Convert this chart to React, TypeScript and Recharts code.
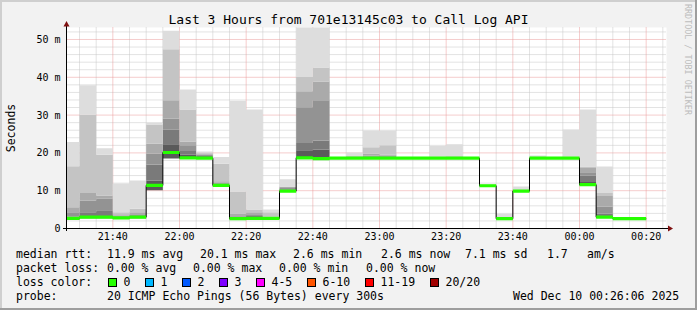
import { Area, CartesianGrid, ComposedChart, XAxis, YAxis } from "recharts";

const FONT = "'DejaVu Sans Mono', monospace";

// 5-minute steps, minutes after 21:00
const slotStart = [
  25, 30, 35, 40, 45, 50, 55, 60, 65, 70, 75, 80, 85, 90, 95, 100, 105, 110,
  115, 120, 125, 130, 135, 140, 145, 150, 155, 160, 165, 170, 175, 180, 185,
  190, 195,
];
const lastStepEnd = 200;

// median rtt in ms
const medianMs = [
  2.7, 3.0, 3.0, 2.8, 3.0, 11.4, 20.1, 18.7, 18.6, 11.4, 2.6, 2.7, 2.7, 9.9,
  18.7, 18.5, 18.6, 18.6, 18.6, 18.6, 18.6, 18.6, 18.6, 18.6, 18.6, 11.3, 2.6,
  9.9, 18.6, 18.6, 18.6, 11.6, 3.0, 2.6, 2.6,
];

// smoke: lowest ping, five inner levels, highest ping (ms)
const smokeLo = [
  2.4, 2.7, 2.7, 2.5, 2.7, 10.1, 18.5, 18.4, 18.4, 11.0, 2.4, 2.5, 2.5, 9.7,
  18.4, 18.3, 18.4, 18.4, 18.4, 18.4, 18.4, 18.4, 18.4, 18.4, 18.4, 11.1, 2.4,
  9.7, 18.4, 18.4, 18.4, 11.3, 2.8, 2.4, 2.4,
];
const smokeA = [
  2.9, 3.3, 3.3, 2.9, 3.2, 12.7, 22.3, 19.5, 18.9, 11.6, 2.9, 3.0, 2.8, 10.1,
  20.7, 20.9, 18.7, 18.7, 18.8, 18.8, 18.7, 18.7, 18.7, 18.7, 18.7, 11.4, 2.7,
  10.0, 18.7, 18.7, 18.7, 12.3, 3.2, 2.7, 2.7,
];
const smokeB = [
  3.2, 4.3, 4.8, 3.1, 3.5, 16.9, 26.1, 20.5, 19.2, 11.9, 3.2, 3.3, 2.9, 10.4,
  22.6, 23.3, 18.7, 18.8, 19.0, 19.0, 18.7, 18.7, 18.8, 18.8, 18.7, 11.5, 2.8,
  10.1, 18.8, 18.7, 18.8, 14.0, 4.0, 2.7, 2.7,
];
const smokeC = [
  4.3, 7.4, 7.9, 3.4, 3.8, 19.8, 29.0, 22.0, 19.5, 12.2, 3.5, 3.6, 3.0, 10.7,
  32.1, 33.9, 18.7, 18.9, 19.3, 19.3, 18.7, 18.7, 18.8, 18.8, 18.7, 11.5, 2.8,
  10.1, 18.8, 18.7, 18.8, 14.9, 5.8, 2.7, 2.7,
];
const smokeD = [
  5.6, 9.4, 8.7, 3.8, 4.3, 22.4, 33.9, 23.0, 19.8, 12.5, 4.0, 4.3, 3.1, 11.0,
  36.3, 38.9, 18.7, 19.0, 19.8, 19.6, 18.7, 18.7, 18.9, 18.9, 18.7, 11.6, 2.9,
  10.2, 18.9, 18.7, 18.9, 16.0, 8.6, 2.7, 2.7,
];
const smokeE = [
  16.5, 30.1, 19.5, 4.3, 5.2, 27.5, 47.4, 31.5, 20.1, 17.1, 9.8, 5.0, 4.3, 11.1,
  40.1, 42.6, 18.7, 19.2, 21.5, 22.0, 18.7, 18.7, 19.0, 19.1, 18.7, 11.6, 2.9,
  10.2, 18.9, 18.7, 19.0, 16.4, 9.4, 2.7, 2.7,
];
const smokeHi = [
  22.9, 37.9, 21.2, 11.9, 12.7, 28.0, 52.3, 36.8, 20.4, 18.9, 33.8, 31.5, 5.0,
  13.0, 60, 60, 18.8, 20.1, 25.9, 25.9, 18.8, 18.8, 21.8, 22.3, 18.8, 11.8, 3.9,
  11.1, 19.3, 18.8, 26.2, 31.5, 16.4, 2.8, 2.8,
];

const smokeShades = ["#5a5a5a", "#7a7a7a", "#939393", "#aaaaaa", "#c4c4c4", "#dddddd"];

const yTicks = [0, 10, 20, 30, 40, 50];
const yMinor = [2, 4, 6, 8, 12, 14, 16, 18, 22, 24, 26, 28, 32, 34, 36, 38, 42, 44, 46, 48, 52];
const xTicks = [40, 60, 80, 100, 120, 140, 160, 180, 200];
const xMinor = [
  30, 35, 45, 50, 55, 65, 70, 75, 85, 90, 95, 105, 110, 115, 125, 130, 135,
  145, 150, 155, 165, 170, 175, 185, 190, 195, 205,
];

const lossLabels = ["0", "1", "2", "3", "4-5", "6-10", "11-19", "20/20"];
const lossColors = ["#26ff00", "#00b8ff", "#0059ff", "#7e00ff", "#ff00ff", "#ff5500", "#ff0000", "#a10000"];

const statsRtt = ["11.9 ms avg", "20.1 ms max", "2.6 ms min", "2.6 ms now", "7.1 ms sd", "1.7", "am/s"];
const statsLoss = ["0.00 % avg", "0.00 % max", "0.00 % min", "0.00 % now"];

// layout
const W = 697;
const H = 310;
const PLOT_LEFT = 66.5;
const PLOT_RIGHT = 666.5;
const PLOT_TOP = 27.5;
const PLOT_BOTTOM = 228.5;
const Y_AXIS_W = 60;
const X_AXIS_H = 20;

const rttX = [107, 200, 293, 381, 465, 547, 587];
const lossX = [107, 193, 279, 366];

const rows = slotStart.map((t, i) => ({
  t,
  median: medianMs[i],
  base: smokeLo[i],
  s0: smokeA[i] - smokeLo[i],
  s1: smokeB[i] - smokeA[i],
  s2: smokeC[i] - smokeB[i],
  s3: smokeD[i] - smokeC[i],
  s4: smokeE[i] - smokeD[i],
  s5: smokeHi[i] - smokeE[i],
  medBase: medianMs[i] - 0.42,
  medBand: 0.84,
}));
// close the last step
rows.push({ ...rows[rows.length - 1], t: lastStepEnd });

function fmtTime(m: number): string {
  const h = (21 + Math.floor(m / 60)) % 24;
  const mm = m % 60;
  return `${String(h).padStart(2, "0")}:${String(mm).padStart(2, "0")}`;
}

function Overlay() {
  const txt = { fontFamily: FONT, fontSize: 11.5, fill: "#000" };
  let sx = 108.5;
  const squares = lossLabels.map((label, i) => {
    const x = sx;
    sx += 30 + label.length * 7;
    return (
      <g key={label}>
        <rect x={x} y={278.5} width={8} height={8} fill={lossColors[i]} stroke="#000" strokeWidth={1} />
        <text x={x + 15} y={286} {...txt}>
          {label}
        </text>
      </g>
    );
  });

  return (
    <svg
      width={W}
      height={H}
      style={{ position: "absolute", left: 0, top: 0, pointerEvents: "none" }}
    >
      {/* frame */}
      <rect x={0} y={0} width={W} height={2} fill="#cfcfcf" />
      <rect x={0} y={0} width={2} height={H} fill="#cfcfcf" />
      <rect x={0} y={H - 2} width={W} height={2} fill="#9e9e9e" />
      <rect x={W - 2} y={0} width={2} height={H} fill="#9e9e9e" />

      <text x={348.5} y={24} textAnchor="middle" fontFamily={FONT} fontSize={13} fill="#000">
        Last 3 Hours from 701e13145c03 to Call Log API
      </text>
      <text
        x={11}
        y={128}
        textAnchor="middle"
        fontFamily={FONT}
        fontSize={11.5}
        fill="#000"
        transform="rotate(-90 11 128)"
        dominantBaseline="central"
      >
        Seconds
      </text>
      <text
        x={684.5}
        y={4}
        fontFamily={FONT}
        fontSize={8.4}
        fill="#bdbdbd"
        transform="rotate(90 684.5 4)"
      >
        RRDTOOL / TOBI OETIKER
      </text>

      {/* axes with arrows */}
      <line x1={PLOT_LEFT} y1={231} x2={PLOT_LEFT} y2={25} stroke="#000" strokeWidth={1} />
      <polygon points={`${PLOT_LEFT - 3},26.5 ${PLOT_LEFT + 3},26.5 ${PLOT_LEFT},21`} fill="#7f1010" />
      <line x1={63} y1={PLOT_BOTTOM} x2={669} y2={PLOT_BOTTOM} stroke="#000" strokeWidth={1} />
      <polygon points={`668,${PLOT_BOTTOM - 3} 668,${PLOT_BOTTOM + 3} 673,${PLOT_BOTTOM}`} fill="#7f1010" />

      {/* legend */}
      <text x={16} y={258} {...txt}>median rtt:</text>
      {statsRtt.map((s, i) => (
        <text key={s + i} x={rttX[i]} y={258} {...txt}>
          {s}
        </text>
      ))}
      <text x={16} y={272} {...txt}>packet loss:</text>
      {statsLoss.map((s, i) => (
        <text key={s + i} x={lossX[i]} y={272} {...txt}>
          {s}
        </text>
      ))}
      <text x={16} y={286} {...txt}>loss color:</text>
      {squares}
      <text x={16} y={300} {...txt}>probe:</text>
      <text x={107} y={300} {...txt}>20 ICMP Echo Pings (56 Bytes) every 300s</text>
      <text x={513} y={300} {...txt}>Wed Dec 10 00:26:06 2025</text>
    </svg>
  );
}

export default function App() {
  const tick = { fill: "#000", fontSize: 10, fontFamily: FONT };
  return (
    <div
      style={{
        position: "absolute",
        left: 0,
        top: 0,
        width: W,
        height: H,
        background: "#f2f2f2",
        overflow: "hidden",
      }}
    >
      <ComposedChart
        width={W}
        height={H}
        data={rows}
        margin={{
          top: PLOT_TOP,
          right: W - PLOT_RIGHT,
          bottom: H - PLOT_BOTTOM - X_AXIS_H,
          left: PLOT_LEFT - Y_AXIS_W,
        }}
      >
        <CartesianGrid fill="#ffffff" horizontal={false} vertical={false} />
        <Area
          dataKey="base"
          stackId="smoke"
          type="stepAfter"
          fill="none"
          stroke="none"
          isAnimationActive={false}
        />
        {smokeShades.map((c, i) => (
          <Area
            key={c}
            dataKey={`s${i}`}
            stackId="smoke"
            type="stepAfter"
            fill={c}
            fillOpacity={1}
            stroke="none"
            isAnimationActive={false}
          />
        ))}
        {/* black median step, drawn as an unfilled area so the green sits above it */}
        <Area
          dataKey="median"
          type="stepAfter"
          stroke="#000"
          strokeWidth={1}
          fill="none"
          dot={false}
          activeDot={false}
          isAnimationActive={false}
        />
        <Area
          dataKey="medBase"
          stackId="med"
          type="stepAfter"
          fill="none"
          stroke="none"
          isAnimationActive={false}
        />
        <Area
          dataKey="medBand"
          stackId="med"
          type="stepAfter"
          fill="#26ff00"
          fillOpacity={1}
          stroke="none"
          isAnimationActive={false}
        />
        <CartesianGrid
          horizontalValues={yMinor}
          verticalValues={xMinor}
          stroke="#c6c6c6"
          strokeDasharray="1 1"
          fill="none"
        />
        <CartesianGrid
          horizontalValues={yTicks.slice(1)}
          verticalValues={xTicks}
          stroke="#eb9a9a"
          strokeDasharray="1 1"
          fill="none"
        />
        <XAxis
          type="number"
          dataKey="t"
          domain={[26.1, 206.1]}
          ticks={xTicks}
          tickFormatter={fmtTime}
          allowDataOverflow
          axisLine={false}
          tickLine={false}
          tickSize={0}
          tickMargin={4}
          height={X_AXIS_H}
          tick={tick}
          interval={0}
        />
        <YAxis
          type="number"
          domain={[0, 53.17]}
          ticks={yTicks}
          tickFormatter={(v: number) => (v === 0 ? "0" : `${v} m`)}
          allowDataOverflow
          axisLine={false}
          tickLine={false}
          tickSize={0}
          tickMargin={6}
          width={Y_AXIS_W}
          tick={tick}
          interval={0}
        />
      </ComposedChart>
      <Overlay />
    </div>
  );
}
